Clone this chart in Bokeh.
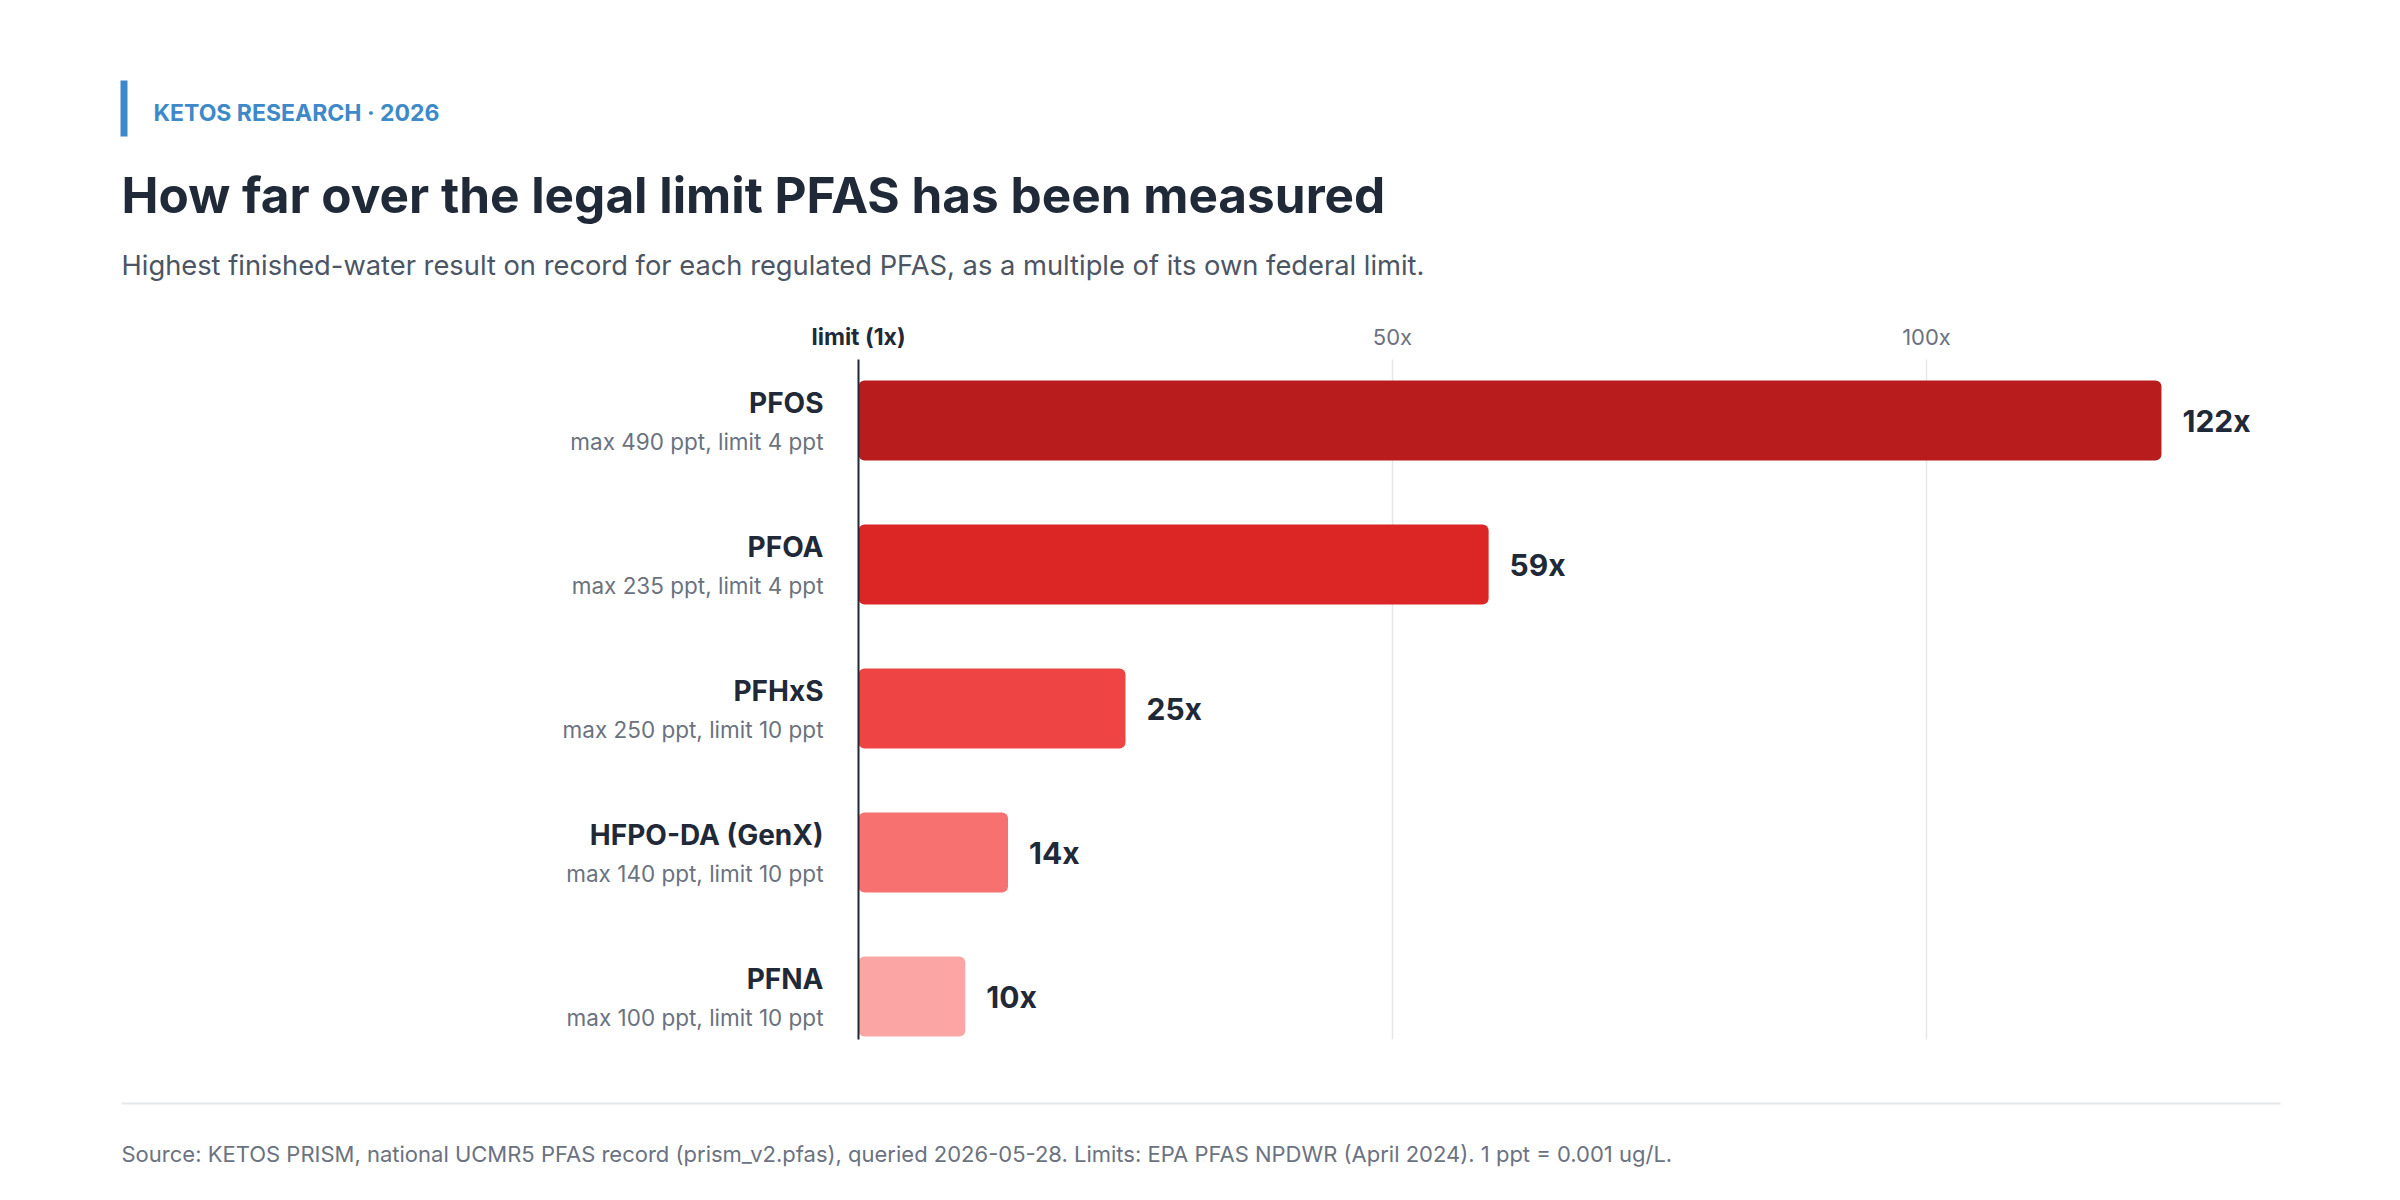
from bokeh.plotting import figure
from bokeh.models import Range1d
from bokeh.core.properties import value
from bokeh.embed import file_html
from bokeh.resources import INLINE

# ---- data -------------------------------------------------------------
compounds = ["PFOS", "PFOA", "PFHxS", "HFPO-DA (GenX)", "PFNA"]
details = [
    "max 490 ppt, limit 4 ppt",
    "max 235 ppt, limit 4 ppt",
    "max 250 ppt, limit 10 ppt",
    "max 140 ppt, limit 10 ppt",
    "max 100 ppt, limit 10 ppt",
]
multiples = [122, 59, 25, 14, 10]
bar_colors = ["#b91c1c", "#dc2626", "#ef4444", "#f87171", "#fca5a5"]
tick_values = [0, 50, 100]
tick_labels = ["limit (1x)", "50x", "100x"]

kicker = "KETOS RESEARCH \u00b7 2026"
title = "How far over the legal limit PFAS has been measured"
subtitle = ("Highest finished-water result on record for each regulated PFAS, "
            "as a multiple of its own federal limit.")
source = ("Source: KETOS PRISM, national UCMR5 PFAS record (prism_v2.pfas), "
          "queried 2026-05-28. Limits: EPA PFAS NPDWR (April 2024). 1 ppt = 0.001 ug/L.")

# ---- page geometry ----------------------------------------------------
W, H = 2400, 1200
X0, XS = 858.0, 10.68      # pixel of 0x and pixels per 1x
Y0, YS = 420.0, 144.0      # pixel of first row centre and row pitch


def px2x(px):
    return (px - X0) / XS


def py2y(py):
    return (py - Y0) / YS


FONT = value("Inter")
DARK = "#1f2937"
GREY = "#6b7280"
BLUE = "#3d89c9"

p = figure(width=W, height=H, output_backend="svg", toolbar_location=None,
           x_axis_location=None, y_axis_location=None,
           x_range=Range1d(px2x(0), px2x(W)),
           y_range=Range1d(py2y(H), py2y(0)),
           min_border=0, outline_line_color=None,
           background_fill_color="white", border_fill_color="white")
p.grid.visible = False

rows = list(range(len(compounds)))
plot_top, plot_bottom = py2y(359), py2y(1039)

# grid lines and the limit rule
grid_x = [t for t in tick_values if t > 0]
p.segment(x0=grid_x, x1=grid_x, y0=[plot_top] * len(grid_x), y1=[plot_bottom] * len(grid_x),
          line_color="#e5e7eb", line_width=1.5)

# bars
p.hbar(y=rows, left=0, right=multiples, height=80 / YS, fill_color=bar_colors,
       line_color=None, border_radius=6)

p.segment(x0=[0], x1=[0], y0=[plot_top], y1=[plot_bottom], line_color=DARK, line_width=2)

# tick labels above the bars
p.text(x=[tick_values[0]], y=[py2y(336)], text=[tick_labels[0]], text_font=FONT,
       text_font_style="bold", text_font_size="23px", text_color=DARK,
       text_align="center", text_baseline="middle")
p.text(x=tick_values[1:], y=[py2y(336)] * 2, text=tick_labels[1:], text_font=FONT,
       text_font_size="22px", text_color=GREY, text_align="center", text_baseline="middle")

# row labels
p.text(x=[px2x(823)] * len(rows), y=[r - 18 / YS for r in rows], text=compounds,
       text_font=FONT, text_font_style="bold", text_font_size="28px", text_color=DARK,
       text_align="right", text_baseline="middle")
p.text(x=[px2x(823)] * len(rows), y=[r + 21 / YS for r in rows], text=details,
       text_font=FONT, text_font_size="22.5px", text_color=GREY,
       text_align="right", text_baseline="middle")

# value labels at bar ends
p.text(x=multiples, y=rows, text=[f"{m}x" for m in multiples], x_offset=21,
       text_font=FONT, text_font_style="bold", text_font_size="30px", text_color=DARK,
       text_align="left", text_baseline="middle")

# header
p.quad(left=[px2x(120)], right=[px2x(127)], top=[py2y(80)], bottom=[py2y(136)],
       fill_color=BLUE, line_color=None)
p.text(x=[px2x(153)], y=[py2y(112)], text=[kicker], text_font=FONT, text_font_style="bold",
       text_font_size="23px", text_color=BLUE, text_align="left", text_baseline="middle")
p.text(x=[px2x(121)], y=[py2y(194)], text=[title], text_font=FONT, text_font_style="bold",
       text_font_size="49.5px", text_color=DARK, text_align="left", text_baseline="middle")
p.text(x=[px2x(121)], y=[py2y(265)], text=[subtitle], text_font=FONT,
       text_font_size="27.3px", text_color="#4b5563", text_align="left", text_baseline="middle")

# footer
p.segment(x0=[px2x(121)], x1=[px2x(2280)], y0=[py2y(1103)], y1=[py2y(1103)],
          line_color="#e5e7eb", line_width=2)
p.text(x=[px2x(121)], y=[py2y(1153)], text=[source], text_font=FONT,
       text_font_size="22px", text_color=GREY, text_align="left", text_baseline="middle")

open("out.html", "w").write(file_html(p, INLINE))
